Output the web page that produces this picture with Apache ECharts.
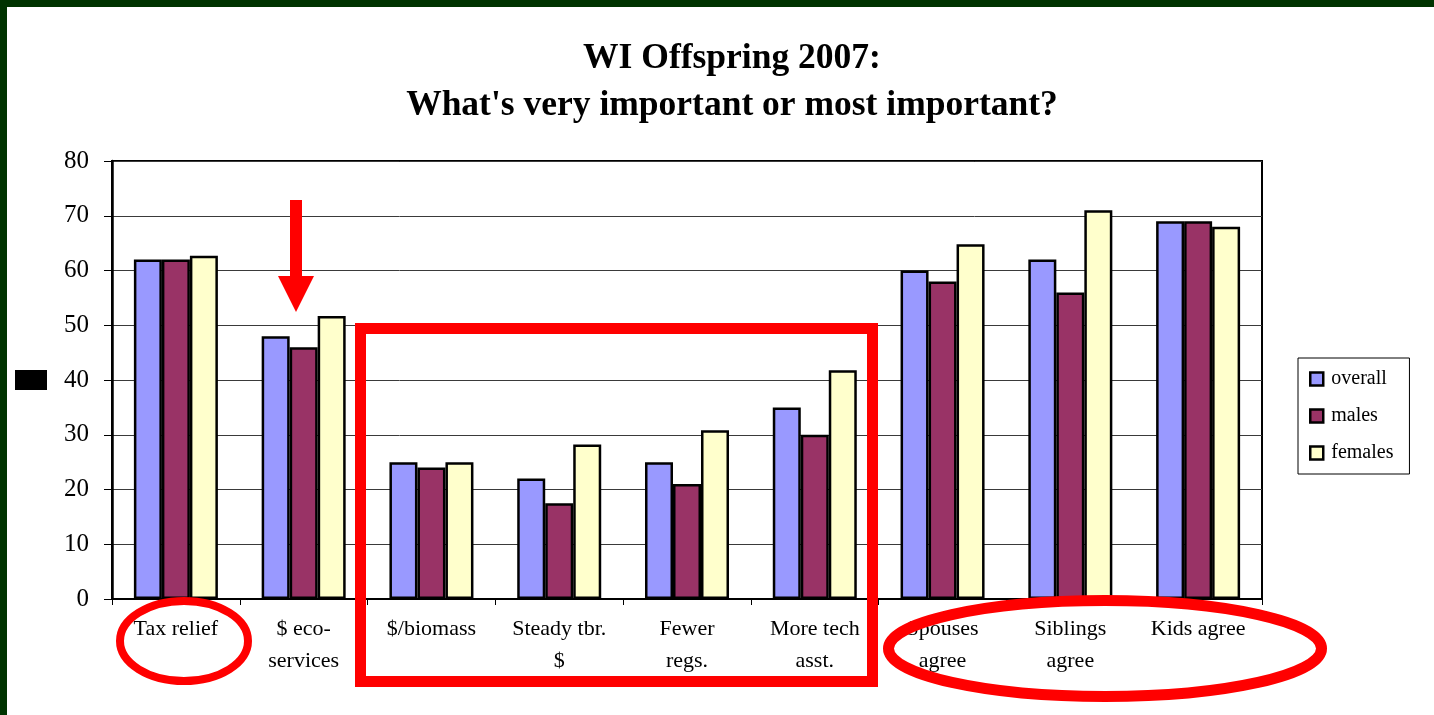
<!DOCTYPE html>
<html>
<head>
<meta charset="utf-8">
<script src="https://cdn.jsdelivr.net/npm/echarts@6/dist/echarts.min.js"></script>
<style>
  html, body { margin: 0; padding: 0; background: #fff; }
  #chart { width: 1434px; height: 715px; }
</style>
</head>
<body>
<div id="chart"></div>
<script>
// categories and values
const categories = ['Tax relief', '$ eco-\nservices', '$/biomass', 'Steady tbr.\n$', 'Fewer\nregs.',
    'More tech\nasst.', 'Spouses\nagree', 'Siblings\nagree', 'Kids agree'];
const overall = [62, 48, 25, 22, 25, 35, 60, 62, 69];
const males = [62, 46, 24, 17.5, 21, 30, 58, 56, 69];
const females = [62.7, 51.7, 25, 28.2, 30.8, 41.8, 64.8, 71, 68];
const yTicks = { min: 0, max: 80, interval: 10 };

const serif = '"Liberation Serif", "DejaVu Serif", serif';
const colorMap = ['#9999FF', '#993366', '#FFFFCC'];

const chart = echarts.init(document.getElementById('chart'));

function barSeries(name, data, idx) {
    return {
        name: name,
        type: 'bar',
        data: data,
        barWidth: 28,
        barGap: '0%',
        itemStyle: {
            color: colorMap[idx],
            borderColor: '#000',
            borderWidth: 2.5
        }
    };
}

let option = {
    animation: false,
    backgroundColor: '#fff',
    title: {
        text: 'WI Offspring 2007:\nWhat\'s very important or most important?',
        left: 727,
        top: 30,
        textAlign: 'center',
        textStyle: {
            fontFamily: serif,
            fontWeight: 'bold',
            fontSize: 35.5,
            lineHeight: 47,
            color: '#000'
        }
    },
    legend: {
        orient: 'vertical',
        left: 1298,
        top: 358,
        padding: [11, 16, 11, 11],
        itemWidth: 13,
        itemHeight: 13,
        itemGap: 17,
        borderColor: '#000',
        borderWidth: 1,
        icon: 'rect',
        data: ['overall', 'males', 'females'],
        textStyle: {
            fontFamily: serif,
            fontSize: 20,
            lineHeight: 20,
            color: '#000',
            padding: [0, 0, 0, 3]
        },
        itemStyle: { borderColor: '#000', borderWidth: 2.5 }
    },
    grid: {
        left: 112,
        right: 172,
        top: 161,
        bottom: 116,
        show: true,
        borderColor: '#000',
        borderWidth: 2,
        backgroundColor: '#fff'
    },
    xAxis: {
        type: 'category',
        data: categories,
        axisLine: { lineStyle: { color: '#000', width: 2 } },
        axisTick: { show: true, length: 6, lineStyle: { color: '#000' } },
        axisLabel: {
            interval: 0,
            margin: 14,
            fontFamily: serif,
            fontSize: 22,
            lineHeight: 32,
            color: '#000'
        }
    },
    yAxis: {
        type: 'value',
        min: yTicks.min,
        max: yTicks.max,
        interval: yTicks.interval,
        axisLine: { show: true, lineStyle: { color: '#000', width: 2.5 } },
        axisTick: { show: true, length: 8, lineStyle: { color: '#000' } },
        splitLine: { lineStyle: { color: '#3a3a3a', width: 1 } },
        axisLabel: {
            margin: 23,
            fontFamily: serif,
            fontSize: 25,
            color: '#000'
        }
    },
    series: [
        barSeries('overall', overall, 0),
        barSeries('males', males, 1),
        barSeries('females', females, 2)
    ],
    graphic: [
        // dark green frame (top and left)
        { type: 'rect', shape: { x: 0, y: 0, width: 1434, height: 7 }, style: { fill: '#003300' }, z: 100 },
        { type: 'rect', shape: { x: 0, y: 0, width: 7, height: 715 }, style: { fill: '#003300' }, z: 100 },
        // black block beside axis
        { type: 'rect', shape: { x: 15, y: 370, width: 32, height: 20 }, style: { fill: '#000' }, z: 100 },
        // red arrow
        {
            type: 'polygon',
            shape: { points: [[290, 200], [302, 200], [302, 276], [314, 276], [296, 312], [278, 276], [290, 276]] },
            style: { fill: '#FF0000' },
            z: 100
        },
        // red box
        {
            type: 'rect',
            shape: { x: 360.5, y: 328.5, width: 512, height: 353 },
            style: { fill: null, stroke: '#FF0000', lineWidth: 11 },
            z: 100
        },
        // red ellipses
        {
            type: 'ellipse',
            shape: { cx: 184, cy: 641, rx: 64, ry: 40 },
            style: { fill: null, stroke: '#FF0000', lineWidth: 8 },
            z: 100
        },
        {
            type: 'ellipse',
            shape: { cx: 1105, cy: 648.5, rx: 216.5, ry: 48 },
            style: { fill: null, stroke: '#FF0000', lineWidth: 11 },
            z: 100
        }
    ]
};
chart.setOption(option);
</script>
</body>
</html>
